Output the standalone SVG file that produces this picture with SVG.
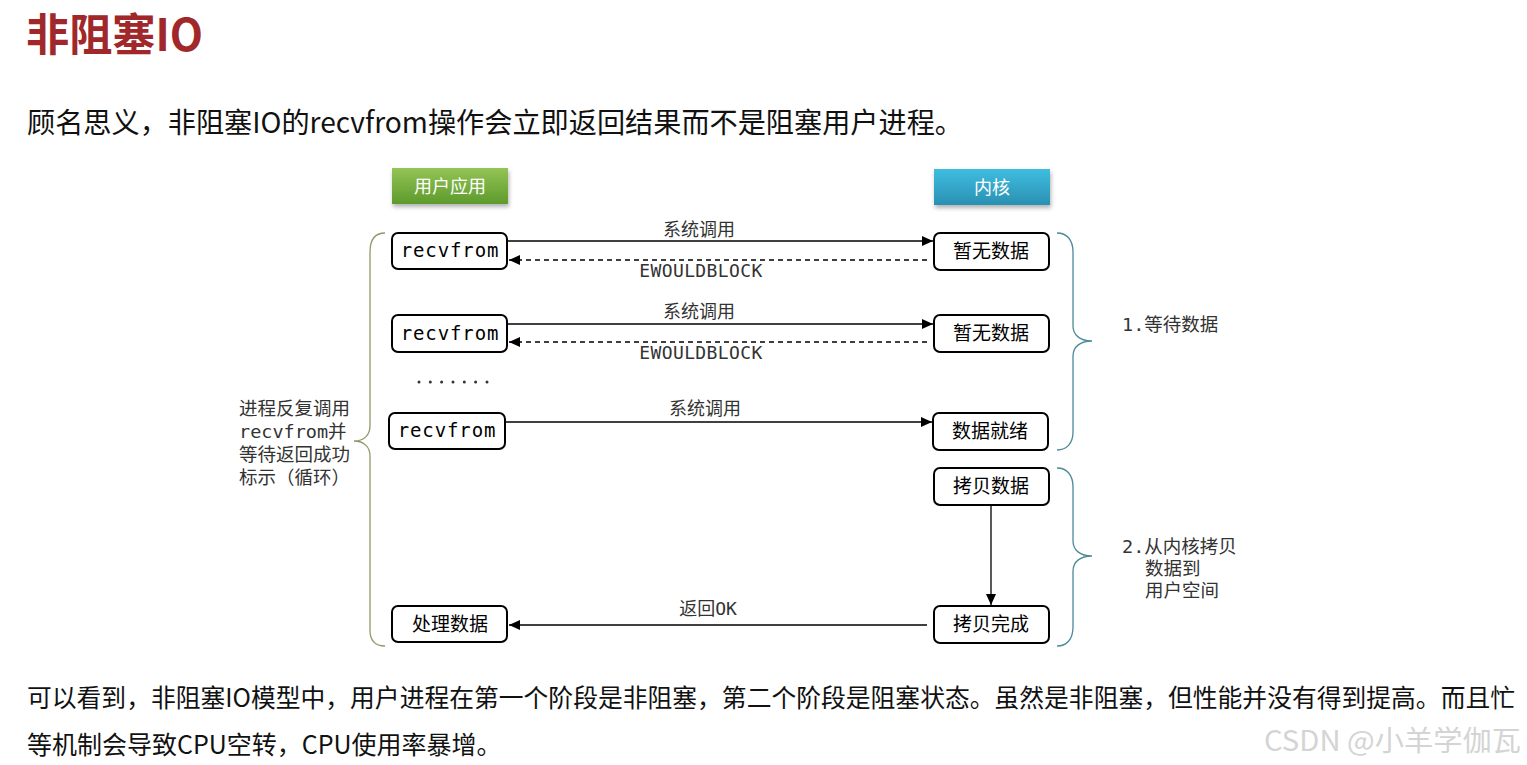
<svg xmlns="http://www.w3.org/2000/svg" width="1527" height="765" viewBox="0 0 1527 765">
<style>
.cn{font-family:"Noto Sans CJK SC","Noto Sans",sans-serif}
.mono{font-family:"DejaVu Sans Mono","Noto Sans CJK SC",monospace}
.box{fill:#fff;stroke:#000;stroke-width:2}
.bt{font-size:19px;fill:#000;text-anchor:middle}
.lbl{font-size:18px;fill:#333;text-anchor:middle}
.conn{stroke:#000;stroke-width:1.3;fill:none}
.dash{stroke-dasharray:5 4}
.brL{fill:none;stroke:#8e9a6a;stroke-width:1.3}
.brR{fill:none;stroke:#4a8a99;stroke-width:1.3}
.side{font-size:18.5px;fill:#333}
</style>
<defs>
<marker id="ah" markerWidth="12" markerHeight="10" refX="11" refY="5" orient="auto" markerUnits="userSpaceOnUse">
<path d="M0,0 L11,5 L0,10 Z" fill="#000"/>
</marker>
<linearGradient id="gG" x1="0" y1="0" x2="0" y2="1">
<stop offset="0" stop-color="#93c455"/>
<stop offset="1" stop-color="#5d9a2c"/>
</linearGradient>
<linearGradient id="gB" x1="0" y1="0" x2="0" y2="1">
<stop offset="0" stop-color="#3fbde0"/>
<stop offset="1" stop-color="#2a90b2"/>
</linearGradient>
<filter id="sh" x="-10%" y="-20%" width="120%" height="160%">
<feDropShadow dx="1" dy="3" stdDeviation="2" flood-color="#000" flood-opacity="0.3"/>
</filter>
</defs>
<rect width="1527" height="765" fill="#fff"/>

<text x="26" y="51" class="cn" font-size="44" font-weight="bold" fill="#a0282a" textLength="177" lengthAdjust="spacingAndGlyphs">非阻塞IO</text>
<text x="27" y="133" class="cn" font-size="28.5" fill="#111" textLength="936" lengthAdjust="spacingAndGlyphs">顾名思义，非阻塞IO的recvfrom操作会立即返回结果而不是阻塞用户进程。</text>

<g id="hdr-user">
<rect x="392" y="168" width="116" height="36" fill="url(#gG)" filter="url(#sh)"/>
<text x="450" y="193" class="cn" font-size="18" fill="#fff" text-anchor="middle">用户应用</text>
</g>
<g id="hdr-kernel">
<rect x="934" y="169" width="116" height="36" fill="url(#gB)" filter="url(#sh)"/>
<text x="992" y="194" class="cn" font-size="18" fill="#fff" text-anchor="middle">内核</text>
</g>

<g id="connectors">
<line class="conn" x1="508" y1="241" x2="933" y2="241" marker-end="url(#ah)"/>
<line class="conn dash" x1="927" y1="260" x2="509" y2="260" marker-end="url(#ah)"/>
<line class="conn" x1="508" y1="324" x2="933" y2="324" marker-end="url(#ah)"/>
<line class="conn dash" x1="927" y1="342" x2="509" y2="342" marker-end="url(#ah)"/>
<line class="conn" x1="506" y1="422" x2="932" y2="422" marker-end="url(#ah)"/>
<line class="conn" x1="991" y1="506" x2="991" y2="605" marker-end="url(#ah)"/>
<line class="conn" x1="927" y1="625" x2="509" y2="625" marker-end="url(#ah)"/>
<text class="mono lbl" x="699" y="236">系统调用</text>
<text class="mono lbl" x="701" y="277" letter-spacing="0.4">EWOULDBLOCK</text>
<text class="mono lbl" x="699" y="318">系统调用</text>
<text class="mono lbl" x="701" y="359" letter-spacing="0.4">EWOULDBLOCK</text>
<text class="mono lbl" x="705" y="415">系统调用</text>
<text class="mono lbl" x="708" y="615">返回OK</text>
</g>

<g id="n-recv1">
<rect class="box" x="392" y="233" width="115" height="36" rx="6"/>
<text class="mono bt" x="450" y="257" font-size="18" letter-spacing="0.9">recvfrom</text>
</g>
<g id="n-recv2">
<rect class="box" x="392" y="315" width="115" height="37" rx="6"/>
<text class="mono bt" x="450" y="340" font-size="18" letter-spacing="0.9">recvfrom</text>
</g>
<g id="n-recv3">
<rect class="box" x="389" y="413" width="116" height="36" rx="6"/>
<text class="mono bt" x="447" y="437" font-size="18" letter-spacing="0.9">recvfrom</text>
</g>
<g id="n-proc">
<rect class="box" x="392" y="606" width="115" height="36" rx="6"/>
<text class="cn bt" x="450" y="631">处理数据</text>
</g>
<g id="n-nodata1">
<rect class="box" x="934" y="233" width="115" height="37" rx="6"/>
<text class="cn bt" x="991" y="258">暂无数据</text>
</g>
<g id="n-nodata2">
<rect class="box" x="934" y="315" width="115" height="37" rx="6"/>
<text class="cn bt" x="991" y="340">暂无数据</text>
</g>
<g id="n-ready">
<rect class="box" x="933" y="413" width="115" height="37" rx="6"/>
<text class="cn bt" x="990" y="438">数据就绪</text>
</g>
<g id="n-copy">
<rect class="box" x="934" y="468" width="115" height="37" rx="6"/>
<text class="cn bt" x="991" y="493">拷贝数据</text>
</g>
<g id="n-done">
<rect class="box" x="934" y="606" width="115" height="37" rx="6"/>
<text class="cn bt" x="991" y="631">拷贝完成</text>
</g>

<g id="dots" fill="#333">
<circle cx="419" cy="382" r="1.5"/><circle cx="430.3" cy="382" r="1.5"/><circle cx="441.6" cy="382" r="1.5"/><circle cx="453" cy="382" r="1.5"/><circle cx="464.3" cy="382" r="1.5"/><circle cx="475.6" cy="382" r="1.5"/><circle cx="487" cy="382" r="1.5"/>
</g>

<g id="braces">
<path class="brL" d="M385,233 C375,233 370,240 370,252 L370,426 C370,435 364,441 354,441 C364,441 370,447 370,456 L370,630 C370,640 375,646 385,646"/>
<path class="brR" d="M1057,233 C1067,233 1073,240 1073,252 L1073,326 C1073,335 1080,341 1092,341 C1080,341 1073,347 1073,356 L1073,432 C1073,443 1067,450 1057,450"/>
<path class="brR" d="M1057,468 C1067,468 1073,475 1073,487 L1073,541 C1073,550 1080,556 1092,556 C1080,556 1073,562 1073,571 L1073,627 C1073,639 1067,646 1057,646"/>
</g>

<g id="side-labels">
<text class="mono side" x="239" y="415">进程反复调用</text>
<text class="mono side" x="239" y="438">recvfrom并</text>
<text class="mono side" x="239" y="461">等待返回成功</text>
<text class="mono side" x="239" y="484">标示（循环）</text>
<text class="mono side" x="1122" y="331">1.等待数据</text>
<text class="mono side" x="1122" y="553">2.从内核拷贝</text>
<text class="mono side" x="1145" y="575">数据到</text>
<text class="mono side" x="1145" y="597">用户空间</text>
</g>

<text x="27" y="707" class="cn" font-size="25" fill="#111" textLength="1488" lengthAdjust="spacingAndGlyphs">可以看到，非阻塞IO模型中，用户进程在第一个阶段是非阻塞，第二个阶段是阻塞状态。虽然是非阻塞，但性能并没有得到提高。而且忙</text>
<text x="27" y="754" class="cn" font-size="25" fill="#111">等机制会导致CPU空转，CPU使用率暴增。</text>
<text x="1264" y="751" class="cn" font-size="28" fill="#d4d4d4" textLength="257" lengthAdjust="spacingAndGlyphs">CSDN @小羊学伽瓦</text>
</svg>
